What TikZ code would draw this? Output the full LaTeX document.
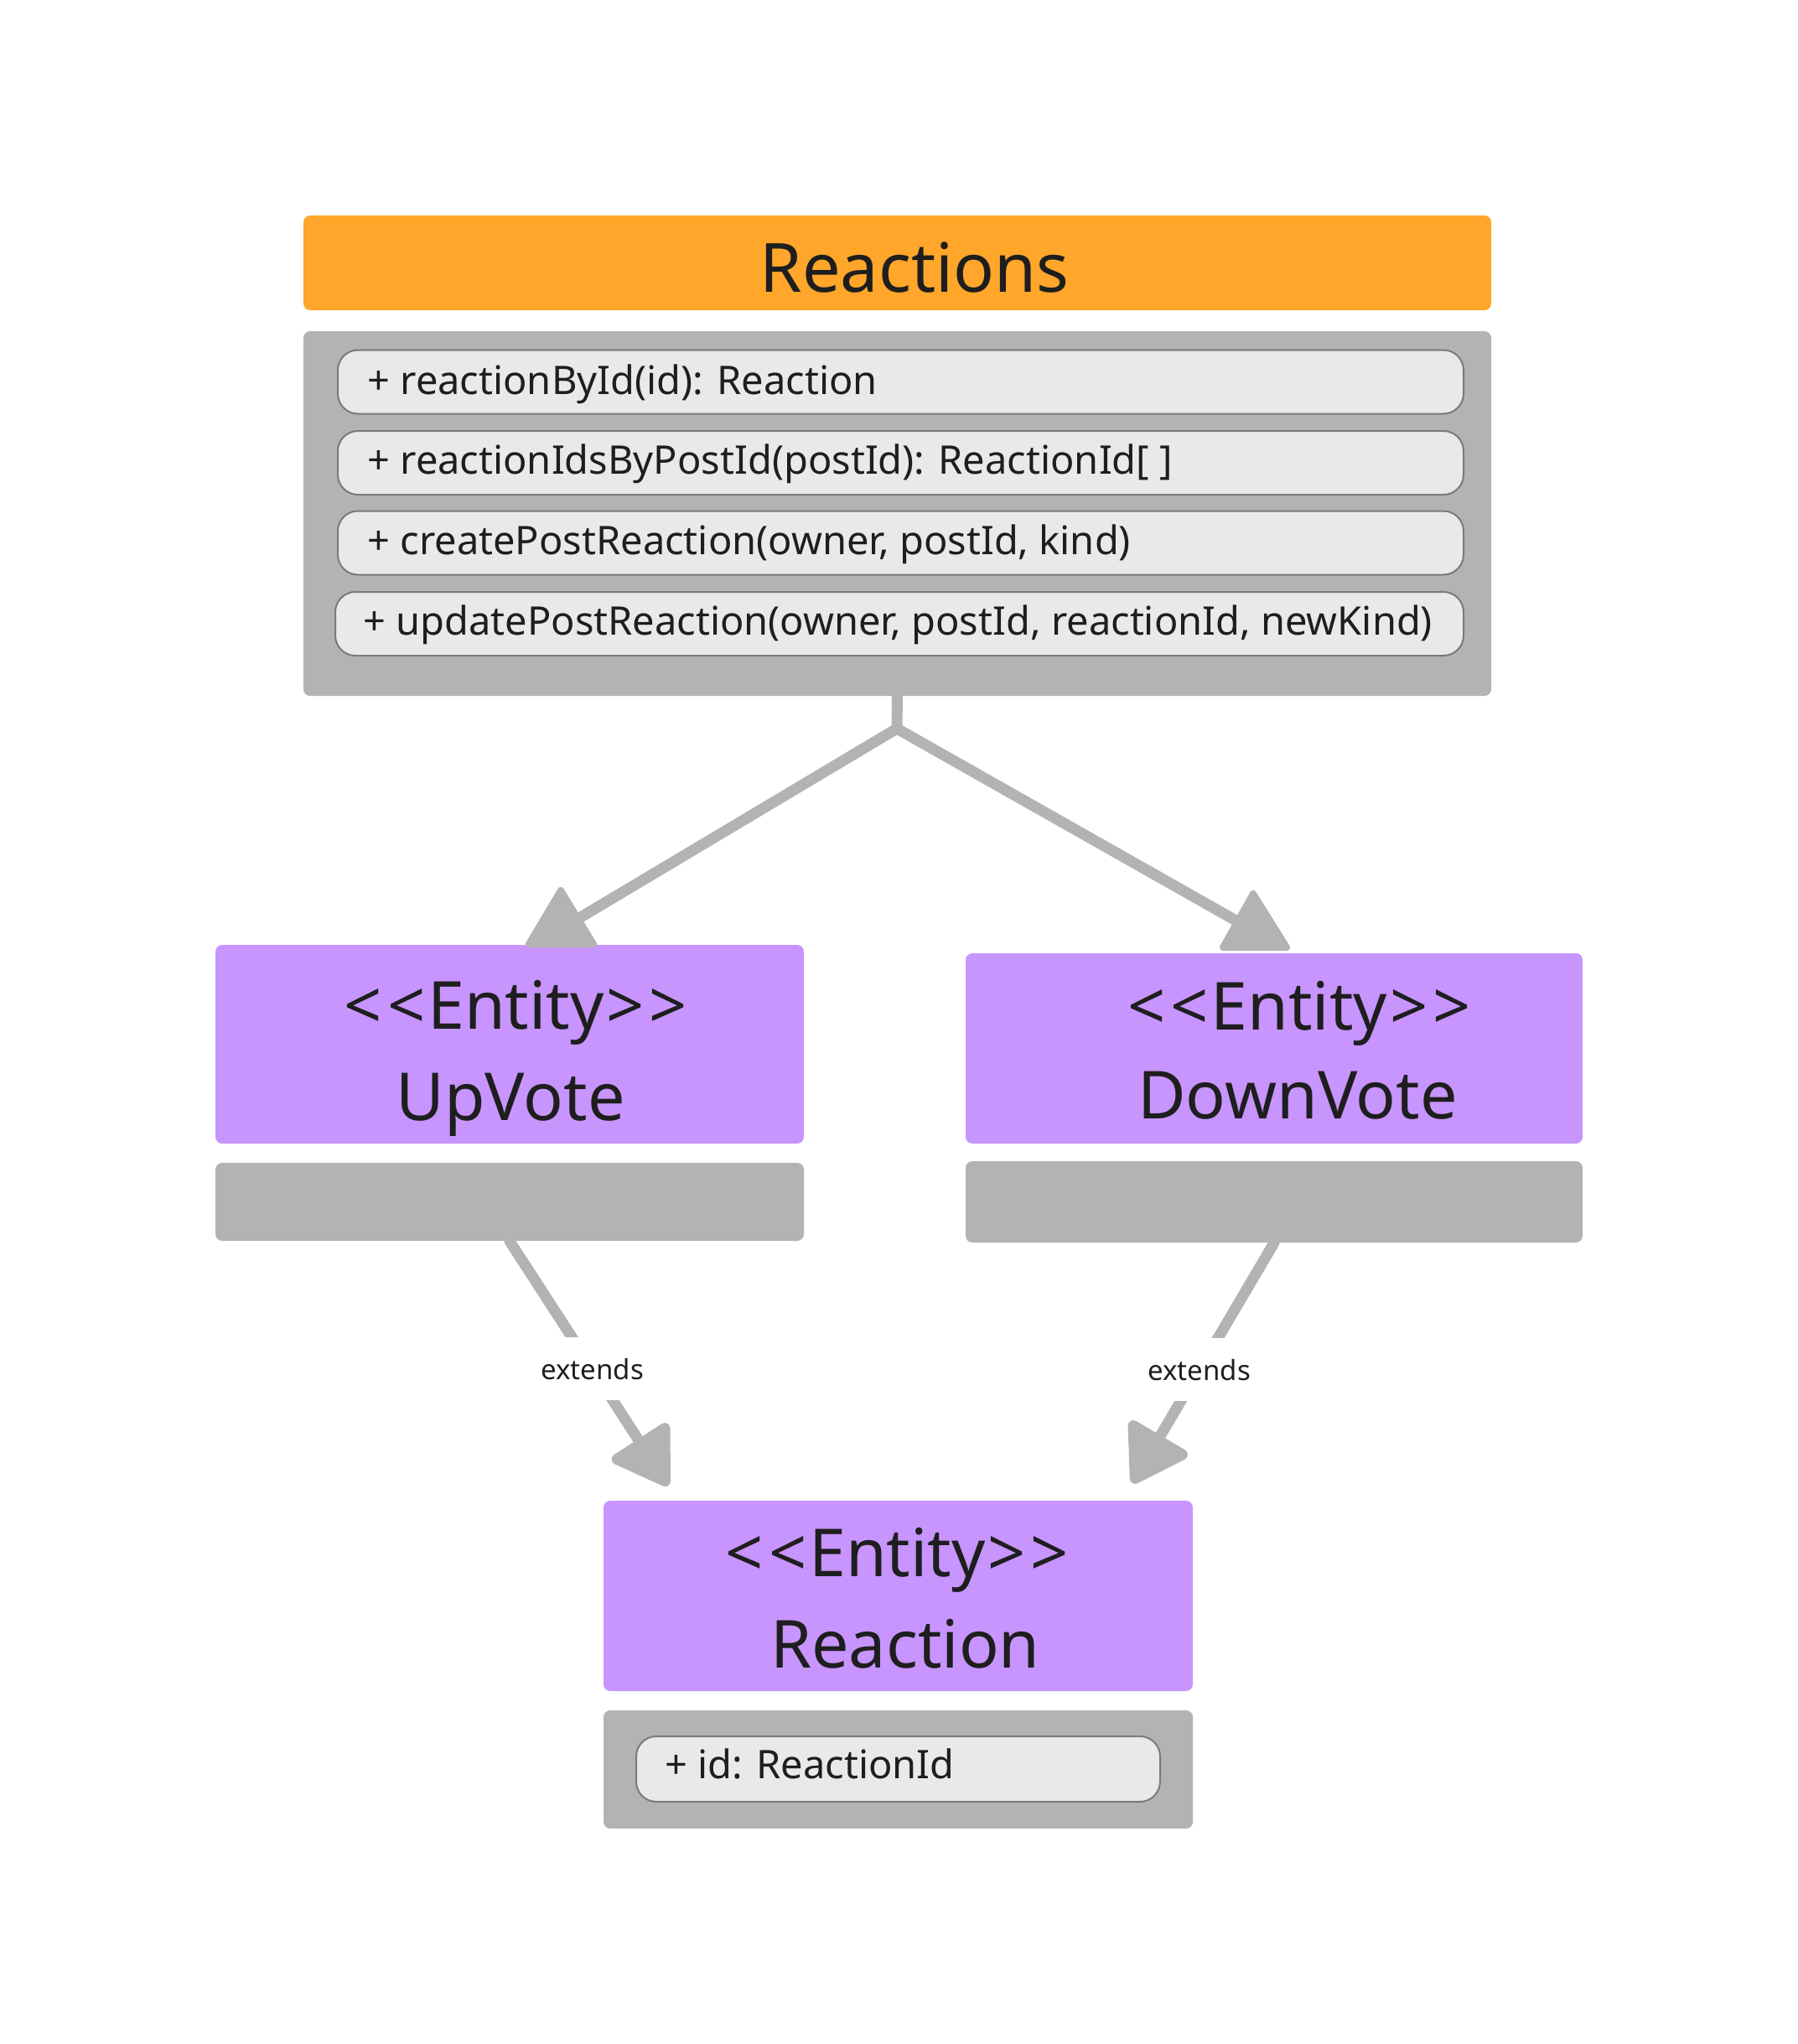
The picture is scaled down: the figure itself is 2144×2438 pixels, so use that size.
\documentclass[tikz,border=0pt]{standalone}
\usepackage{fontspec}
\setmainfont{Noto Sans}
\usetikzlibrary{arrows.meta}
\definecolor{orangeH}{HTML}{FFA62B}
\definecolor{purpleE}{HTML}{C795FD}
\definecolor{grayB}{HTML}{B3B3B3}
\definecolor{rowF}{HTML}{E9E9E9}
\definecolor{rowD}{HTML}{7A7A7A}
\definecolor{ink}{HTML}{1E1E1E}
\newcommand{\stereo}{<\kern3pt<\kern1.5pt Entity\kern1.5pt>\kern3pt>}
\begin{document}
\begin{tikzpicture}[x=0.5pt,y=-0.5pt,
  hdr/.style={fill=orangeH, rounded corners=4pt, inner sep=0pt},
  panel/.style={fill=grayB, rounded corners=4pt, inner sep=0pt},
  ent/.style={fill=purpleE, rounded corners=4pt, inner sep=0pt},
  rowbox/.style={fill=rowF, draw=rowD, line width=1pt, rounded corners=12pt, inner sep=0pt},
  txt/.style={text=ink, inner sep=0pt, anchor=base west, font=\fontsize{23.5}{27}\selectfont},
  big/.style={text=ink, inner sep=0pt, anchor=base, font=\fontsize{39.5}{46}\selectfont},
  conn/.style={draw=grayB, line width=6.5pt, line cap=round, line join=round},
  headtri/.style={fill=grayB, draw=grayB, line width=4pt, line join=round},
  lbl/.style={fill=white, text=ink, font=\fontsize{16.5}{19}\selectfont, inner xsep=2pt, inner ysep=0pt, minimum height=37.5pt},
  ext/.style={conn, -{Triangle[round, length=36pt, width=44pt]}}
]
\useasboundingbox (0,0) rectangle (2144,2438);

% Reactions class
\node[hdr, minimum width=708.5pt, minimum height=56.5pt] (header) at (1070.5,313.5) {};
\node[big, font=\fontsize{40.5}{46}\selectfont] (title) at (1091,348) {Reactions};
\node[panel, minimum width=708.5pt, minimum height=217.5pt] (methods) at (1070.5,612.5) {};
\node[rowbox, minimum width=671.5pt, minimum height=38pt] (r1) at (1074.5,455.5) {};
\node[rowbox, minimum width=671.5pt, minimum height=38pt] (r2) at (1074.5,552) {};
\node[rowbox, minimum width=671.5pt, minimum height=38pt] (r3) at (1074.5,647.5) {};
\node[rowbox, minimum width=673pt, minimum height=38pt] (r4) at (1073,744) {};
\node[txt] (t1) at (438,470) {+ reactionById(id): Reaction};
\node[txt] (t2) at (438,565) {+ reactionIdsByPostId(postId): ReactionId[ ]};
\node[txt] (t3) at (438,661) {+ createPostReaction(owner, postId, kind)};
\node[txt] (t4) at (433,757) {+ updatePostReaction(owner, postId, reactionId, newKind)};

% UpVote
\node[ent, minimum width=351pt, minimum height=118.5pt] (up) at (608,1245.5) {};
\node[big] (upst) at (615.5,1227) {\stereo};
\node[big] (upnm) at (609,1336) {UpVote};
\node[panel, minimum width=351pt, minimum height=46.5pt] (upattr) at (608,1433.5) {};

% DownVote
\node[ent, minimum width=368pt, minimum height=113.5pt] (down) at (1520,1250.5) {};
\node[big] (downst) at (1550,1228) {\stereo};
\node[big] (downnm) at (1548,1334) {DownVote};
\node[panel, minimum width=368pt, minimum height=48.5pt] (downattr) at (1520,1433.5) {};

% Reaction
\node[ent, minimum width=351.5pt, minimum height=113.5pt] (react) at (1071.5,1903.5) {};
\node[big] (reactst) at (1070.5,1880) {\stereo};
\node[big] (reactnm) at (1080,1989) {Reaction};
\node[panel, minimum width=351.5pt, minimum height=70.5pt] (reactattr) at (1071.5,2110.5) {};
\node[rowbox, minimum width=312.5pt, minimum height=39pt] (ra1) at (1071.5,2110) {};
\node[txt] (ta1) at (793,2121) {+ id: ReactionId};

% connectors from Reactions
\coordinate (junction) at (1070,869);
\coordinate (upin) at (686,1098);
\coordinate (downin) at (1478,1100);
\draw[conn] (methods.south) -- (junction) -- (upin);
\draw[conn] (junction) -- (downin);
\filldraw[headtri] (669,1062) -- (631,1126) -- (708,1126) -- cycle;
\filldraw[headtri] (1495,1066) -- (1459,1130) -- (1535,1130) -- cycle;

% extends
\coordinate (tipL) at (797,1772);
\coordinate (tipR) at (1351,1769);
\draw[ext] (upattr.south) -- node[lbl, pos=0.522] (extL) {extends} (tipL);
\draw[ext] (downattr.south) -- node[lbl, pos=0.528] (extR) {extends} (tipR);
\end{tikzpicture}
\end{document}
